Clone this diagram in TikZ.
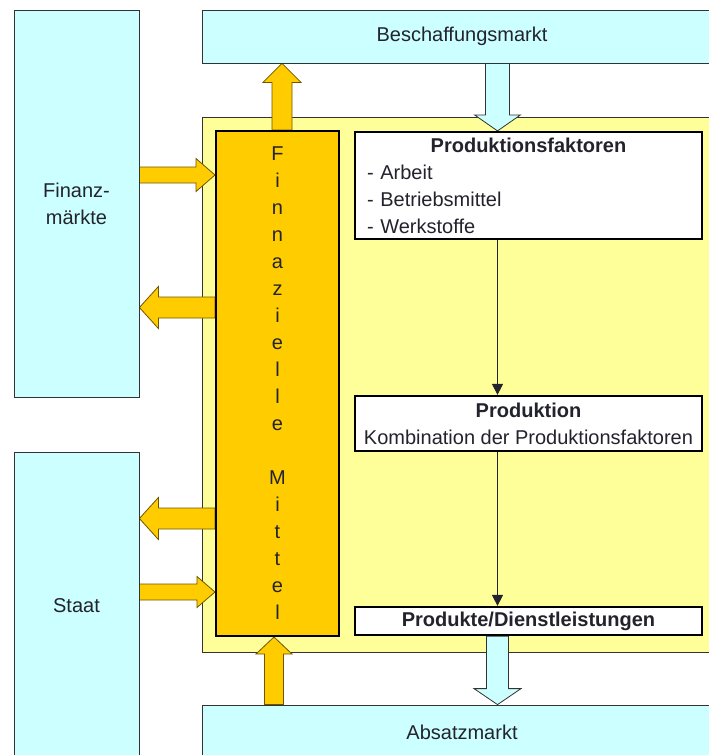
\documentclass[tikz,border=0pt]{standalone}
\usepackage{fontspec}
\setmainfont{Liberation Sans}
\usetikzlibrary{calc,arrows.meta,backgrounds}

\definecolor{marktblue}{RGB}{204,255,255}
\definecolor{firmyellow}{RGB}{255,255,153}
\definecolor{geldorange}{RGB}{255,204,0}
\definecolor{textgrey}{RGB}{35,35,45}
\definecolor{linegrey}{RGB}{51,51,51}
\definecolor{arrowbrown}{RGB}{110,85,0}

% block arrow: [style]{from}{to}{half shaft}{half head}{head length}
\newcommand{\blockarrow}[6][]{%
  \coordinate (ba-h) at ($(#3)!#6!(#2)$);
  \filldraw[#1] ($(#2)!#4!90:(#3)$) -- ($(ba-h)!#4!-90:(#2)$)
    -- ($(ba-h)!#5!-90:(#2)$) -- (#3) -- ($(ba-h)!#5!90:(#2)$)
    -- ($(ba-h)!#4!90:(#2)$) -- ($(#2)!#4!-90:(#3)$) -- cycle;}

\begin{document}
\begin{tikzpicture}[x=1pt,y=-1pt,
  every node/.style={font=\fontsize{20}{27}\selectfont,text=textgrey,inner sep=0pt},
  market/.style={draw=linegrey,fill=marktblue,line width=0.8pt},
  firm/.style={draw=linegrey,fill=firmyellow,line width=0.8pt},
  geldbox/.style={draw=black,fill=geldorange,line width=2pt},
  factbox/.style={draw=black,fill=white,line width=2.2pt,minimum width=347pt},
  goldarrow/.style={draw=arrowbrown,fill=geldorange,line width=0.8pt},
  bluearrow/.style={draw=linegrey,fill=marktblue,line width=0.8pt},
  flow/.style={draw=textgrey,line width=0.9pt,-{Triangle[length=11pt,width=11pt]}}]
  \useasboundingbox (0,0) rectangle (709,755);
  \clip (0,0) rectangle (709,755);

  % Maerkte
  \node[market,minimum width=125pt,minimum height=387pt,align=center] (finanz) at (76.5,203.5) {Finanz-\\märkte};
  \node[market,minimum width=125pt,minimum height=308pt] (staat) at (76.5,606) {Staat};
  \node[market,minimum width=520pt,minimum height=53pt] (besch) at (462,36.5) {Beschaffungsmarkt};
  \node[market,minimum width=520pt,minimum height=55pt] (absatz) at (462,732.5) {Absatzmarkt};

  % Unternehmen
  \node[geldbox,minimum width=123pt,minimum height=505pt,align=center] (mittel) at (277.5,383.5)
    {F\\i\\n\\n\\a\\z\\i\\e\\l\\l\\e\\[27pt]M\\i\\t\\t\\e\\l};
  \node[factbox,minimum height=107pt,text width=323pt,align=left] (pf) at (528.5,185.5)
    {{\centering\bfseries Produktionsfaktoren\par}- Arbeit\\- Betriebsmittel\\- Werkstoffe};
  \node[factbox,minimum height=55pt,align=center] (prod) at (528.5,423.5)
    {\textbf{Produktion}\\Kombination der Produktionsfaktoren};
  \node[factbox,minimum height=28pt] (pd) at (528.5,621) {\textbf{Produkte/Dienstleistungen}};

  \coordinate (axis) at (497.5,0);
  \coordinate (c1) at (282,0);
  \coordinate (c2) at (274,0);
  \coordinate (r1) at (0,175);
  \coordinate (r2) at (0,307.5);
  \coordinate (r3) at (0,518.5);
  \coordinate (r4) at (0,592);

  \draw[flow] (pf.south -| axis) -- (prod.north -| axis);
  \draw[flow] (prod.south -| axis) -- (pd.north -| axis);

  \begin{scope}[on background layer]
    \node[firm,minimum width=520pt,minimum height=535pt] (firma) at (462,384.5) {};
    \blockarrow[bluearrow]{besch.south -| axis}{pf.north -| axis}{12pt}{23pt}{16pt}
    \blockarrow[bluearrow]{pd.south -| axis}{absatz.north -| axis}{11pt}{23.5pt}{16pt}
    \blockarrow[goldarrow]{finanz.east |- r1}{mittel.west |- r1}{8pt}{16.5pt}{19pt}
    \blockarrow[goldarrow]{mittel.west |- r2}{finanz.east |- r2}{10.5pt}{21pt}{19pt}
    \blockarrow[goldarrow]{mittel.west |- r3}{staat.east |- r3}{10.5pt}{21pt}{19pt}
    \blockarrow[goldarrow]{staat.east |- r4}{mittel.west |- r4}{8pt}{15.5pt}{18pt}
    \blockarrow[goldarrow]{mittel.north -| c1}{besch.south -| c1}{10pt}{19pt}{19pt}
    \blockarrow[goldarrow]{absatz.north -| c2}{mittel.south -| c2}{9.5pt}{18pt}{17pt}
  \end{scope}
\end{tikzpicture}
\end{document}
